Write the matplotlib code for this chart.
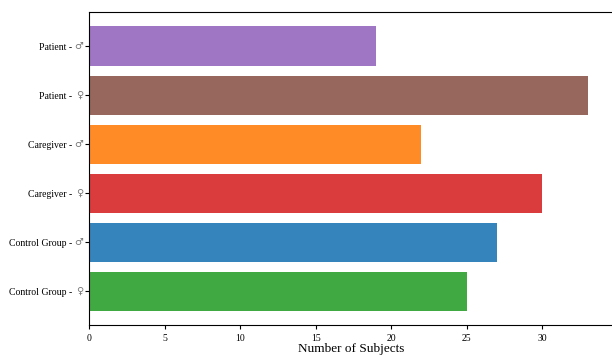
import matplotlib
matplotlib.use("Agg")
import matplotlib.pyplot as plt

plt.rcParams['font.family'] = ['Liberation Serif', 'DejaVu Serif']

groups = ["Control Group", "Control Group", "Caregiver", "Caregiver",
          "Patient", "Patient"]
sexes = ["\u2640", "\u2642", "\u2640", "\u2642", "\u2640", "\u2642"]
counts = [25, 27, 30, 22, 33, 19]
colors = ["#2ca02c", "#1f77b4", "#d62728", "#ff7f0e", "#8c564b", "#9467bd"]

fig = plt.figure(figsize=(6.12, 3.57), dpi=100)
ax = fig.add_axes([0.1454, 0.0896, 0.8555, 0.876])
pos = range(len(counts))
ax.barh(pos, counts, color=colors, alpha=0.9, height=0.8)
ax.set_xlim(0, 34.65)

# names on the ticks, sex symbols drawn next to them in a sans font
ax.set_yticks(pos)
ax.set_yticklabels([g + " -" for g in groups])
ax.tick_params(axis="y", labelsize=7, pad=9, length=3)
ax.tick_params(axis="x", labelsize=7, length=3)
for i, s in enumerate(sexes):
    ax.annotate(s, xy=(0, i), xycoords=ax.get_yaxis_transform(),
                xytext=(-4, 0), textcoords="offset points",
                ha="right", va="center", fontsize=7, color="#777777",
                family=["DejaVu Sans", "DejaVu Serif", "Liberation Serif"])

ax.set_xlabel("Number of Subjects", fontsize=9.5, labelpad=0)
fig.savefig("out.png", dpi=100)
